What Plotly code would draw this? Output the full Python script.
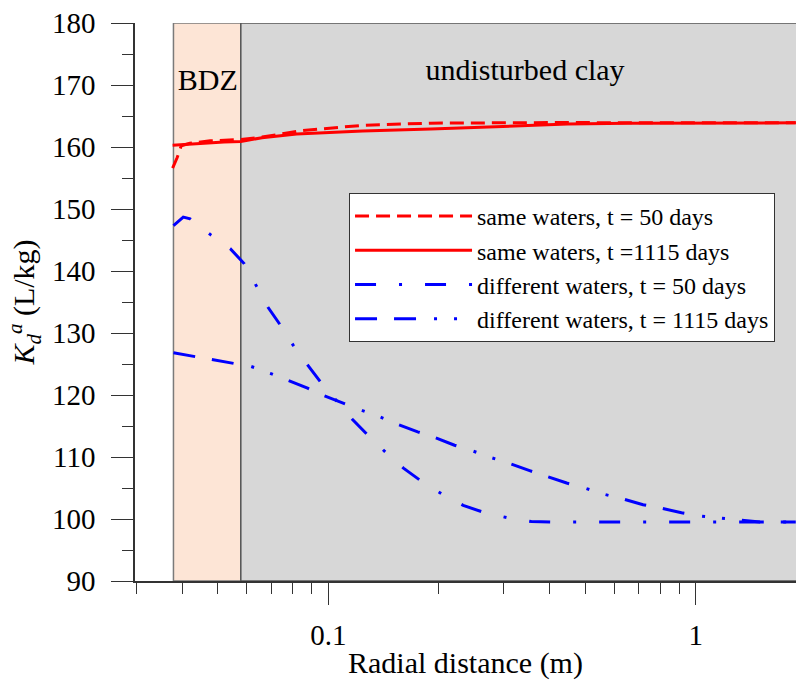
import plotly.graph_objects as go

# ---- data ----
bdz_x = [0.0379, 0.0578]          # BDZ zone limits (m)
clay_x = [0.0578, 2.5]            # undisturbed clay zone

x_same50 = [0.0377, 0.0388, 0.0398, 0.0420, 0.0477, 0.0578, 0.066, 0.0838, 0.0952, 0.124,
            0.19, 0.289, 0.45, 0.653, 1.0, 1.87]
y_same50 = [156.6, 158.3, 160.2, 160.6, 161.0, 161.2, 161.6, 162.6, 162.9, 163.5,
            163.85, 163.95, 163.95, 163.9, 163.9, 163.9]

x_same1115 = [0.0377, 0.045, 0.052, 0.0578, 0.066, 0.082, 0.124, 0.19, 0.334, 0.448,
              0.653, 1.0, 1.87]
y_same1115 = [160.3, 160.6, 160.8, 160.9, 161.5, 162.1, 162.6, 162.9, 163.5, 163.7,
              163.85, 163.9, 163.9]

x_diff50 = [0.0379, 0.0403, 0.0421, 0.0477, 0.0541, 0.0590, 0.0637, 0.0686, 0.0740, 0.0803,
            0.0882, 0.0955, 0.1162, 0.1277, 0.1430, 0.1601, 0.1781, 0.2028, 0.2328, 0.2639,
            0.3069, 0.3567, 0.4095, 0.6, 1.0, 1.87]
y_diff50 = [147.3, 148.7, 148.4, 145.9, 143.6, 141.2, 137.6, 134.1, 131.3, 128.0,
            124.7, 122.0, 116.1, 113.6, 110.8, 108.2, 106.2, 104.1, 102.2, 101.1,
            100.2, 99.6, 99.5, 99.5, 99.5, 99.5]

x_diff1115 = [0.0379, 0.0434, 0.0482, 0.0552, 0.0617, 0.0695, 0.0775, 0.0878, 0.0971, 0.1101,
              0.1222, 0.1377, 0.1538, 0.1751, 0.1936, 0.2205, 0.2464, 0.2775, 0.3100, 0.3530,
              0.3919, 0.4451, 0.4983, 0.5616, 0.6284, 0.7186, 0.7978, 0.9142, 1.0235, 1.1603,
              1.3041, 1.4940, 1.87]
y_diff1115 = [126.8, 126.2, 125.7, 125.2, 124.6, 123.5, 122.4, 121.1, 119.9, 118.6,
              117.6, 116.5, 115.3, 114.05, 113.2, 111.9, 111.0, 109.9, 109.0, 107.8,
              106.9, 105.8, 105.0, 104.0, 103.3, 102.3, 101.8, 101.0, 100.5, 100.2,
              99.9, 99.5, 99.5]

names = ["same waters, t = 50 days", "same waters, t =1115 days",
         "different waters, t = 50 days", "different waters, t = 1115 days"]

x_major = [0.1, 1]
x_minor = [0.03, 0.04, 0.05, 0.06, 0.07, 0.08, 0.09, 0.2, 0.3, 0.4, 0.5, 0.6, 0.7, 0.8, 0.9]

FONT = "Liberation Serif, Times New Roman, serif"

fig = go.Figure()

# shaded zones
fig.add_shape(type="rect", xref="x", yref="y", x0=bdz_x[0], x1=bdz_x[1], y0=90, y1=180,
              fillcolor="#FDE5D6", line=dict(color="#7a7a7a", width=1.5), layer="below")
fig.add_shape(type="rect", xref="x", yref="y", x0=clay_x[0], x1=clay_x[1], y0=90, y1=180,
              fillcolor="#D7D7D7", line=dict(color="#555555", width=1.5), layer="below")

fig.add_trace(go.Scatter(x=x_same50, y=y_same50, mode="lines", name=names[0],
                         line=dict(color="#FF0000", width=3, dash="14px,7px"), legendgroup="a"))
fig.add_trace(go.Scatter(x=x_same1115, y=y_same1115, mode="lines", name=names[1],
                         line=dict(color="#FF0000", width=3), legendgroup="b"))
fig.add_trace(go.Scatter(x=x_diff50, y=y_diff50, mode="lines", name=names[2],
                         line=dict(color="#0000FF", width=3, dash="21px,23px,3px,23px"),
                         legendgroup="c"))
fig.add_trace(go.Scatter(x=x_diff1115, y=y_diff1115, mode="lines", name=names[3],
                         line=dict(color="#0000FF", width=3,
                                   dash="22px,17px,22px,18px,3px,17px,3px,17px"),
                         legendgroup="d"))

# zone labels
fig.add_trace(go.Scatter(x=[0.047], y=[170.4], mode="text", text=["BDZ"], showlegend=False,
                         textfont=dict(family=FONT, size=30, color="black"), hoverinfo="skip"))
fig.add_trace(go.Scatter(x=[0.343], y=[172], mode="text", text=["undisturbed clay"],
                         showlegend=False, textfont=dict(family=FONT, size=30, color="black"),
                         hoverinfo="skip"))

fig.update_layout(
    width=796, height=680,
    margin=dict(l=135, r=0, t=23, b=99),
    paper_bgcolor="white", plot_bgcolor="white",
    font=dict(family=FONT, size=29, color="black"),
    showlegend=True,
    legend=dict(x=0.3238, y=0.6953, xanchor="left", yanchor="top",
                bgcolor="white", bordercolor="#333333", borderwidth=1,
                font=dict(family=FONT, size=24, color="black"),
                tracegroupgap=0, itemwidth=117),
)

fig.update_xaxes(
    type="log", range=[-1.526, 0.2725], automargin=False,
    showgrid=False, zeroline=False,
    showline=True, linecolor="#333333", linewidth=1.5,
    tickmode="array", tickvals=x_major, ticktext=["0.1", "1"],
    ticks="outside", ticklen=22, tickwidth=1.2, tickcolor="#333333",
    ticklabelstandoff=5,
    minor=dict(tickmode="array", tickvals=x_minor, ticks="outside", ticklen=11,
               tickwidth=1.2, tickcolor="#333333", showgrid=False),
    title=dict(text="Radial distance (m)", font=dict(size=30), standoff=20),
)

fig.update_yaxes(
    range=[90, 180], automargin=False, showgrid=False, zeroline=False,
    showline=True, linecolor="#333333", linewidth=1.5,
    tickmode="linear", tick0=90, dtick=10,
    ticks="outside", ticklen=22, tickwidth=1.2, tickcolor="#333333",
    ticklabelstandoff=10,
    minor=dict(dtick=5, ticks="outside", ticklen=11, tickwidth=1.2, tickcolor="#333333",
               showgrid=False),
    title=dict(text="<i>K</i><sub><i>d</i></sub><sup><i>a</i></sup> (L/kg)",
               font=dict(size=30), standoff=8),
)

fig.write_html("out.html")
